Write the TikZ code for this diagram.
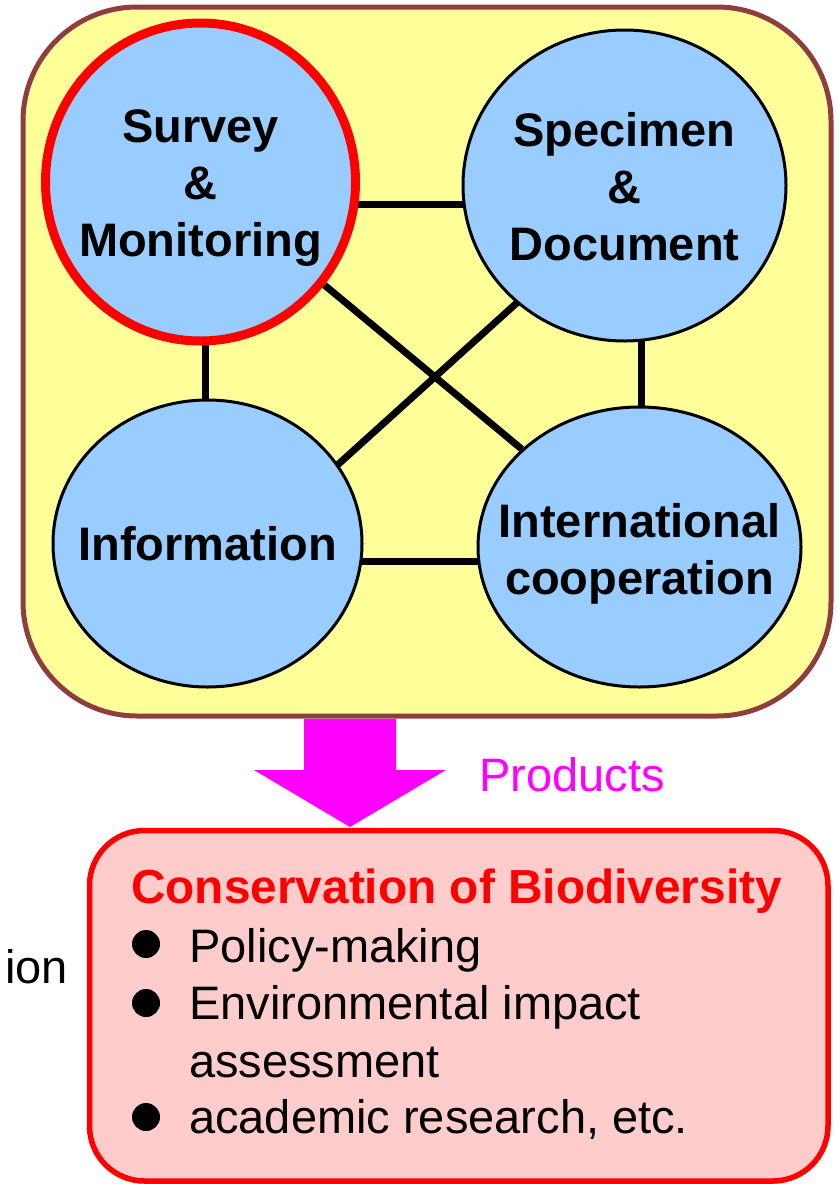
\documentclass[tikz,border=0pt]{standalone}
\usepackage{fontspec}
\setmainfont{Liberation Sans}
\usetikzlibrary{shapes.geometric,
	backgrounds,
	calc,
	positioning}
\definecolor{panelfill}{RGB}{255,255,153}
\definecolor{paneledge}{RGB}{142,62,62}
\definecolor{topicfill}{RGB}{153,204,255}
\definecolor{goalfill}{RGB}{255,204,204}
\definecolor{prodcol}{RGB}{255,0,255}
\tikzstyle{topic}=[ellipse, draw=black, line width=3pt, fill=topicfill, inner sep=0pt]
\tikzstyle{hot}=[draw=red, line width=9pt]
\tikzstyle{caption}=[align=center, inner sep=0pt, font=\fontsize{47}{57}\selectfont\bfseries]
\tikzstyle{link}=[line width=7pt]
\tikzstyle{panel}=[draw=paneledge, fill=panelfill, line width=5pt, rounded corners=114pt, inner sep=0pt]
\tikzstyle{goal}=[draw=red, fill=goalfill, line width=5.5pt, rounded corners=55pt, inner sep=0pt]
\tikzstyle{txt}=[inner sep=0pt, anchor=base west, font=\fontsize{47}{57}\selectfont]
\tikzstyle{bul}=[circle, fill=black, inner sep=0pt, minimum size=28pt]

\begin{document}
\begin{tikzpicture}[x=1pt, y=-1pt]
            \useasboundingbox (0,0) rectangle (836,1184);
            % the four fields
            \node[topic, hot, minimum width=310pt, minimum height=318pt] (sm) at (200.5,182) {};
            \node[topic, minimum width=323pt, minimum height=311pt] (sd) at (624.5,185.5) {};
            \node[topic, minimum width=309pt, minimum height=287pt] (inf) at (207.5,543.5) {};
            \node[topic, minimum width=323pt, minimum height=280pt] (intl) at (639.5,547) {};
            \node[caption] at ($(sm)+(0,6)$) {Survey\\\&\\Monitoring};
            \node[caption] at ($(sd)+(0,1)$) {Specimen\\\&\\Document};
            \node[caption] at (inf) {Information};
            \node[caption] at ($(intl)+(0,7)$) {International\\cooperation};
            \begin{scope}[on background layer]
                \node[panel, minimum width=808pt, minimum height=709pt] (box) at (427,361.5) {};
                \draw[link] ($(sm)+(0,22.5)$) -- ($(sd)+(0,19)$);
                \draw[link] ($(sm)+(5,0)$) -- ($(inf)+(-2,0)$);
                \draw[link] ($(sd)+(17,0)$) -- ($(intl)+(2,0)$);
                \draw[link] ($(inf)+(0,18)$) -- ($(intl)+(0,14.5)$);
                \draw[link] (sm) -- (intl);
                \draw[link] ($(sd)+(0,20)$) -- ($(inf)+(0,39)$);
            \end{scope}
            % products arrow
            \coordinate (tip) at (350,827);
            \fill[prodcol] (tip) -- ++(96,-57) -- ++(-50,0) -- ++(0,-51) -- ++(-92,0)
                -- ++(0,51) -- ++(-50,0) -- cycle;
            \node[txt, text=prodcol] (prod) at (479,791) {Products};
            % goal box
            \node[goal, minimum width=738.5pt, minimum height=350.5pt] (cons) at (458.75,1005.75) {};
            \node[txt, font=\fontsize{47.8}{57}\selectfont\bfseries, text=red] (title) at (131,903) {Conservation of Biodiversity};
            \node[bul] (b1) at (146,944) {};
            \node[bul] (b2) at (146,1003) {};
            \node[bul] (b3) at (146,1117) {};
            \node[txt] (i1) at (189,962) {Policy-making};
            \node[txt] (i2) at (189,1019) {Environmental impact};
            \node[txt] (i3) at (189,1077) {assessment};
            \node[txt] (i4) at (189,1133) {academic research, etc.};
            \node[txt, anchor=base east] (ion) at (68,983) {ion};
\end{tikzpicture}
\end{document}
